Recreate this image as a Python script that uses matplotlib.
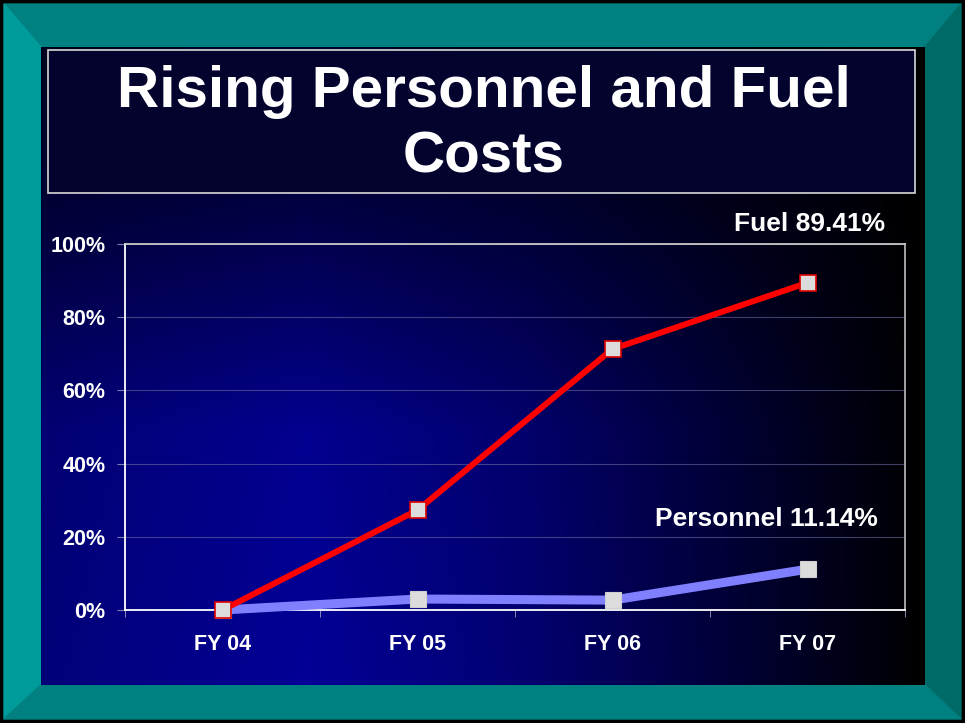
import numpy as np
import matplotlib
matplotlib.use("Agg")
import matplotlib.pyplot as plt
from matplotlib.patches import Polygon, Rectangle

categories = ["FY 04", "FY 05", "FY 06", "FY 07"]
fuel = [0.0, 27.3, 71.3, 89.41]
personnel = [0.0, 3.0, 2.7, 11.14]
yticks = [0, 20, 40, 60, 80, 100]
title = "Rising Personnel and Fuel\nCosts"
fuel_label = "Fuel 89.41%"
pers_label = "Personnel 11.14%"

W, H = 965, 723
fig = plt.figure(figsize=(W / 100, H / 100), dpi=100)
plt.rcParams['font.family'] = ['Liberation Sans', 'DejaVu Sans']

# background axes in pixel coordinates (y down)
bg = fig.add_axes([0, 0, 1, 1])
bg.axis('off')
bg.add_patch(Rectangle((0, 0), W, H, color='black', zorder=0.1))
ox0, oy0, ox1, oy1 = 4, 4, 961, 719
ix0, iy0, ix1, iy1 = 41, 47, 925, 685
bg.add_patch(Polygon([(ox0, oy0), (ox1, oy0), (ix1, iy0), (ix0, iy0)], color='#008080'))
bg.add_patch(Polygon([(ox0, oy0), (ix0, iy0), (ix0, iy1), (ox0, oy1)], color='#009b9b'))
bg.add_patch(Polygon([(ox1, oy0), (ox1, oy1), (ix1, iy1), (ix1, iy0)], color='#006a66'))
bg.add_patch(Polygon([(ox0, oy1), (ix0, iy1), (ix1, iy1), (ox1, oy1)], color='#008080'))

# gradient inner panel
nx, ny = 300, 200
xs = np.linspace(0, 1, nx)
ys = np.linspace(0, 1, ny)
hx = np.interp(xs, [0, 0.3, 0.55, 1.0], [0.8, 1.0, 0.75, 0.0])
vy = np.interp(ys, [0, 0.25, 0.6, 1.0], [0.25, 0.45, 0.95, 1.0])
B = np.outer(vy, hx) * 150 / 255
img = np.zeros((ny, nx, 3))
img[..., 2] = B
img[..., 0] = B * 0.02
bg.imshow(img, extent=(ix0, ix1, iy1, iy0), aspect='auto', interpolation='bilinear', zorder=1.5)

# title box
bg.add_patch(Rectangle((48, 50), 867, 143, facecolor='#03032e', edgecolor='#d8d8d8', lw=1.2, zorder=2))
bg.text(484, 125, title, ha='center', va='center', color='white', fontsize=42,
        fontweight='bold', linespacing=1.27, zorder=3)
bg.set_xlim(0, W)
bg.set_ylim(H, 0)

# chart axes
l, r, t, b = 125, 905, 244, 610
ax = fig.add_axes([l / W, 1 - b / H, (r - l) / W, (b - t) / H])
ax.set_facecolor('none')
x = np.arange(len(categories))
ax.plot(x, fuel, color='#ff0000', lw=4.3, marker='s', ms=11.5, mfc='#dcdcdc',
        mec='#e00000', mew=1.2, zorder=4, solid_joinstyle='round', clip_on=False)
ax.plot(x, personnel, color='#8080ff', lw=6.5, marker='s', ms=11.5, mfc='#dcdcdc',
        mec='#d0d0d0', mew=0.8, zorder=3, solid_joinstyle='round', clip_on=False)
ax.set_xlim(-0.5, len(categories) - 0.5)
ax.set_ylim(0, 100)
ax.set_yticks(yticks)
ax.set_yticklabels([f"{v}%" for v in yticks])
ax.set_xticks(x)
ax.set_xticklabels(categories)
ax.set_xticks(np.arange(-0.5, len(categories), 1.0), minor=True)
ax.tick_params(axis='x', which='major', length=0, pad=17, labelsize=15.5, labelcolor='white')
ax.tick_params(axis='x', which='minor', length=5, color='#a0a0c0', direction='out')
ax.tick_params(axis='y', length=6, color='#8080b0', pad=8, labelsize=15.5, labelcolor='white')
for lab in ax.get_xticklabels() + ax.get_yticklabels():
    lab.set_fontweight('bold')
ax.grid(axis='y', color='#6a6aa0', lw=0.8, alpha=0.6)
ax.set_axisbelow(True)
ax.spines['left'].set_color('white')
ax.spines['bottom'].set_color('white')
ax.spines['top'].set_color('#c8c8c8')
ax.spines['right'].set_color('#b0b0b0')
for s in ax.spines.values():
    s.set_linewidth(1.3)

ax.annotate(fuel_label, xy=(x[-1], fuel[-1]), xytext=(56, 42), textcoords='offset points',
            ha='right', va='center', color='white', fontsize=19, fontweight='bold',
            annotation_clip=False)
ax.annotate(pers_label, xy=(x[-1], personnel[-1]), xytext=(51, 36), textcoords='offset points',
            ha='right', va='center', color='white', fontsize=19, fontweight='bold',
            annotation_clip=False)

fig.savefig("out.png", dpi=100)
